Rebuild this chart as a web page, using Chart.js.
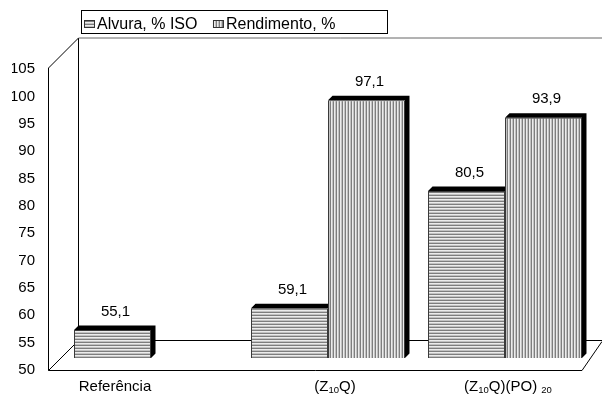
<!DOCTYPE html>
<html>
<head>
<meta charset="utf-8">
<script src="https://cdn.jsdelivr.net/npm/chart.js@4/dist/chart.umd.min.js"></script>
<style>
  html, body { margin: 0; background: #fff; }
  canvas { display: block; }
</style>
</head>
<body>
<canvas id="chart" width="602" height="396"></canvas>
<script>
// Data (subscripts written as _{..})
const categories = ['Referência', '(Z_{10}Q)', '(Z_{10}Q)(PO) _{20}'];
const seriesNames = ['Alvura, % ISO', 'Rendimento, %'];
const alvura = [55.1, 59.1, 80.5];
const rendimento = [null, 97.1, 93.9];
const yMin = 50;
const yMax = 105;
const yStep = 5;

const FONT = '"Liberation Sans", Arial, sans-serif';
const canvas = document.getElementById('chart');
const ctx = canvas.getContext('2d');

// Hatch pattern: horizontal or vertical grey lines
function stripes(horizontal) {
  const c = document.createElement('canvas');
  c.width = 3; c.height = 3;
  const g = c.getContext('2d');
  ['#7e7e7e', '#ececec', '#c2c2c2'].forEach((col, i) => {
    g.fillStyle = col;
    if (horizontal) g.fillRect(0, i, 3, 1);
    else g.fillRect(i, 0, 1, 3);
  });
  return ctx.createPattern(c, 'repeat');
}

const hatchH = stripes(true);
const hatchV = stripes(false);

// Draw a label with _{sub} parts
function drawRich(g, str, cx, baseY) {
  const parts = [];
  const re = /_\{([^}]*)\}/g;
  let last = 0, m;
  while ((m = re.exec(str))) {
    if (m.index > last) parts.push({ t: str.slice(last, m.index), sub: false });
    parts.push({ t: m[1], sub: true });
    last = re.lastIndex;
  }
  if (last < str.length) parts.push({ t: str.slice(last), sub: false });
  const fMain = '15px ' + FONT, fSub = '9.5px ' + FONT;
  let w = 0;
  parts.forEach(p => { g.font = p.sub ? fSub : fMain; p.w = g.measureText(p.t).width; w += p.w; });
  let x = cx - w / 2;
  g.textAlign = 'left';
  g.textBaseline = 'alphabetic';
  parts.forEach(p => {
    g.font = p.sub ? fSub : fMain;
    g.fillText(p.t, x, baseY + (p.sub ? 2 : 0));
    x += p.w;
  });
}

function line(g, x1, y1, x2, y2) {
  g.beginPath(); g.moveTo(x1, y1); g.lineTo(x2, y2); g.stroke();
}

// Back wall, floor and front axis of the 3D box
const framePlugin = {
  id: 'frame',
  beforeDatasetsDraw(chart) {
    const g = chart.ctx;
    const y = chart.scales.y;
    const yF = y.getPixelForValue(yMin) + 0.5;   // front floor
    const yT = y.getPixelForValue(yMax) - 1;     // front top
    const d = 30;
    const fl = 48.5, W = chart.width;
    const fr = 582;
    g.save();
    g.lineWidth = 1;
    g.strokeStyle = '#000';
    line(g, fl, yT, fl, yF);
    line(g, fl, yT, fl + d, yT - d);
    line(g, fl + d, yT - d, fl + d, yF - d);
    line(g, fl + d, yF - d, W, yF - d);
    line(g, fl, yF, fr, yF);
    line(g, fl, yF, fl + d, yF - d);
    line(g, fr, yF, W, yF - 29);
    g.strokeStyle = '#666';
    line(g, fl + d, yT - d, W, yT - d);
    g.restore();
  }
};

// Black top and side faces of each bar, plus value labels
const bar3dPlugin = {
  id: 'bar3d',
  afterDatasetsDraw(chart) {
    const g = chart.ctx;
    const d = 4.5;
    const metas = chart.data.datasets.map((ds, i) => chart.getDatasetMeta(i));
    g.save();
    metas.forEach((meta, di) => {
      meta.data.forEach((bar, i) => {
        const v = chart.data.datasets[di].data[i];
        if (v === null) return;
        const p = bar.getProps(['x', 'y', 'base', 'width'], true);
        const l = p.x - p.width / 2, r = p.x + p.width / 2;
        g.save();
        // hide the part covered by a neighbour bar on the right
        metas.forEach((other, oi) => {
          if (oi === di || chart.data.datasets[oi].data[i] === null) return;
          const q = other.data[i].getProps(['x', 'y', 'base', 'width'], true);
          if (q.x <= p.x) return;
          g.beginPath();
          g.rect(0, 0, chart.width, chart.height);
          g.rect(q.x - q.width / 2, q.y, q.width, q.base - q.y);
          g.clip('evenodd');
        });
        g.fillStyle = '#000';
        g.beginPath();
        g.moveTo(l, p.y); g.lineTo(l + d, p.y - d); g.lineTo(r + d, p.y - d);
        g.lineTo(r + d, p.base - d); g.lineTo(r, p.base); g.lineTo(r, p.y);
        g.closePath();
        g.fill();
        g.restore();
      });
    });
    g.fillStyle = '#000';
    g.font = '15px ' + FONT;
    g.textAlign = 'center';
    g.textBaseline = 'middle';
    metas.forEach((meta, di) => {
      meta.data.forEach((bar, i) => {
        const v = chart.data.datasets[di].data[i];
        if (v === null) return;
        g.fillText(v.toFixed(1).replace('.', ','), bar.x + 3, bar.y - 18.5);
      });
    });
    g.restore();
  }
};

// Category labels with subscripts and the framed legend
const labelsPlugin = {
  id: 'labels',
  afterDraw(chart) {
    const g = chart.ctx;
    const x = chart.scales.x;
    const nudge = [-36, 7, 3];
    g.save();
    g.fillStyle = '#000';
    categories.forEach((c, i) => drawRich(g, c, x.getPixelForValue(i) + nudge[i], 391));

    // legend
    g.strokeStyle = '#000';
    g.lineWidth = 1;
    g.strokeRect(81.5, 10.5, 306, 23);
    g.font = '16px ' + FONT;
    g.textAlign = 'left';
    g.textBaseline = 'alphabetic';
    let lx = 84;
    chart.data.datasets.forEach(ds => {
      g.fillStyle = ds.backgroundColor;
      g.fillRect(lx, 20, 11, 8);
      g.strokeStyle = '#333';
      g.strokeRect(lx + 0.5, 20.5, 10, 7);
      g.fillStyle = '#000';
      g.fillText(ds.label, lx + 13, 28.5);
      lx += 13 + g.measureText(ds.label).width + 15.5;
    });
    g.restore();
  }
};

new Chart(ctx, {
  type: 'bar',
  data: {
    labels: categories,
    datasets: [
      { label: seriesNames[0], data: alvura, backgroundColor: hatchH, borderColor: '#3a3a3a', borderWidth: 1, yAxisID: 'y2', base: yMin },
      { label: seriesNames[1], data: rendimento, backgroundColor: hatchV, borderColor: '#3a3a3a', borderWidth: 1, yAxisID: 'y2', base: yMin }
    ]
  },
  options: {
    responsive: false,
    animation: false,
    events: [],
    layout: { padding: { top: 69, bottom: 26, left: 12, right: 8.5 } },
    datasets: { bar: { barPercentage: 1, categoryPercentage: 0.87 } },
    plugins: { legend: { display: false }, tooltip: { enabled: false } },
    scales: {
      x: { display: false, offset: true },
      y: {
        position: 'left',
        min: yMin, max: yMax,
        grid: { display: false, drawTicks: false },
        border: { display: false },
        ticks: { stepSize: yStep, padding: 27.5, color: '#000', font: { family: FONT, size: 15 } },
        afterFit(s) {
          s.width = 50.5;
          // the big label gap should not push the plot area in
          s.paddingTop = 0;
          s.paddingBottom = 0;
        }
      },
      // bars sit on a plane lifted 12px above the front floor
      y2: { display: false, min: yMin - 12 * (yMax - yMin) / 301, max: yMax - 12 * (yMax - yMin) / 301 }
    }
  },
  plugins: [framePlugin, bar3dPlugin, labelsPlugin]
});
</script>
</body>
</html>
